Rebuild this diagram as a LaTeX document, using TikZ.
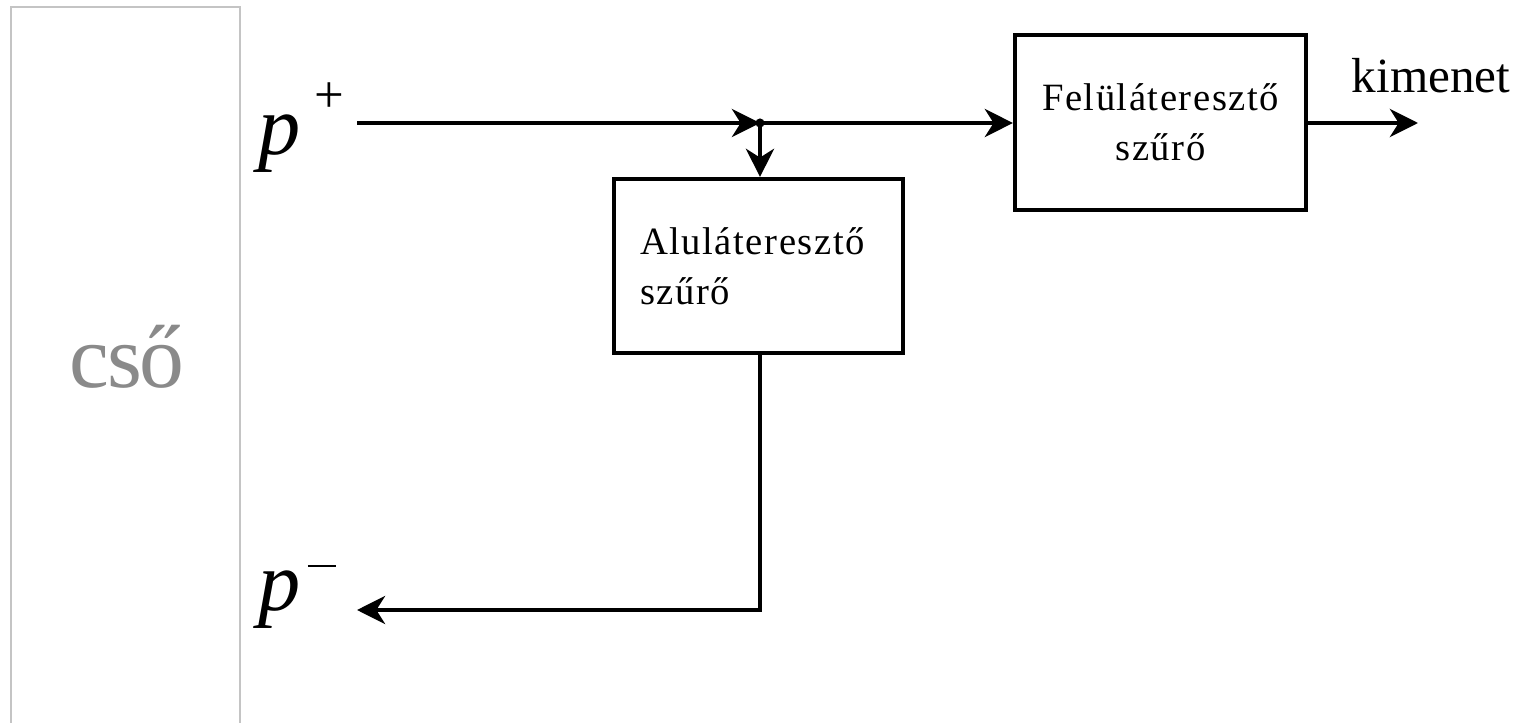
\documentclass[tikz,border=0pt]{standalone}
\usepackage{fontspec}
\setmainfont{Liberation Serif}
\usetikzlibrary{arrows.meta}
\definecolor{pipegray}{HTML}{C4C4C4}
\definecolor{labelgray}{HTML}{8A8A8A}
\tikzset{
  flow/.style={line width=2.4pt, -{Stealth[length=16pt,width=16pt,inset=5pt]}},
  filterbox/.style={draw, line width=2.4pt, font=\fontsize{22}{28.5}\selectfont\addfontfeatures{LetterSpace=4}},
  pvar/.style={inner sep=0pt, font=\fontsize{48}{48}\selectfont\itshape},
}
\begin{document}
\begin{tikzpicture}[x=0.02cm, y=-0.02cm]
\useasboundingbox (0,0) rectangle (1535,723);
% pipe
\draw[pipegray, line width=1.2pt] (11,723) -- (11,7) -- (240,7) -- (240,723);
\node[text=labelgray, font=\fontsize{51}{51}\selectfont\addfontfeatures{LetterSpace=-3}, anchor=base] (cso) at (127,387) {cső};
% variables
\node[pvar, anchor=base west] (pplus) at (258,154) {p};
\node[inner sep=0pt, font=\fontsize{30}{30}\selectfont, anchor=center] (plussign) at (329,98) {+};
\node[pvar, anchor=base west] (pminus) at (258,610) {p};
\node[inner sep=0pt, anchor=center] (minussign) at (322,566) {\rule{16pt}{0.9pt}};
% boxes
\node[filterbox, text width=4.74cm, inner xsep=0.52cm, inner ysep=0pt, minimum height=3.48cm, align=left] (lp) at (758.5,266) {Aluláteresztő\\szűrő};
\node[filterbox, inner sep=0pt, minimum width=5.82cm, minimum height=3.5cm, align=center] (hp) at (1160.5,122.5) {Felüláteresztő\\szűrő};
\node[font=\fontsize{28}{28}\selectfont, anchor=base] (kim) at (1431,92) {kimenet};
% coordinates
\coordinate (in) at (357,123);
\coordinate (j) at (760,123);
\coordinate (out) at (1418,123);
\coordinate (ret) at (357,610);
% connectors
\draw[flow] (in) -- (j);
\fill (j) circle (2.6pt);
\draw[flow] (j) -- (hp.west |- j);
\draw[flow] (j) -- (j |- lp.north);
\draw[flow] (hp.east |- out) -- (out);
\draw[flow] (j |- lp.south) |- (ret);
\end{tikzpicture}
\end{document}
